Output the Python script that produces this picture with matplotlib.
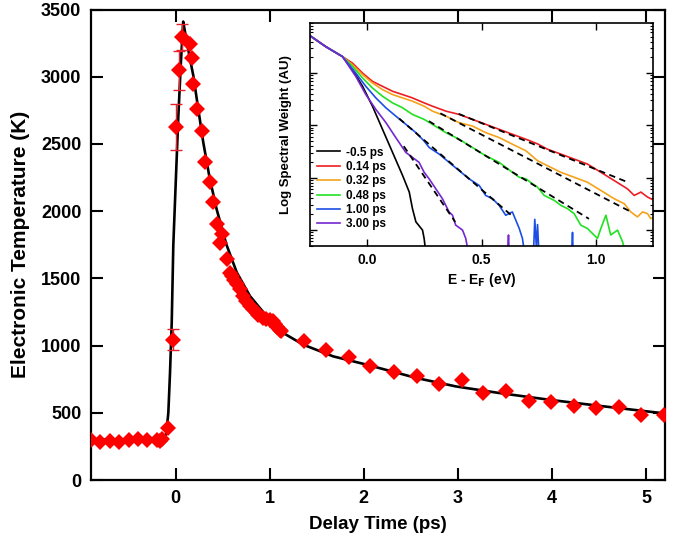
import matplotlib
matplotlib.use("Agg")
import matplotlib.pyplot as plt
import numpy as np

plt.rcParams['font.family'] = ['Liberation Sans', 'DejaVu Sans']
plt.rcParams['font.weight'] = 'bold'

# measured electronic temperature (delay in ps, T in K)
delay = [-0.90, -0.80, -0.70, -0.60, -0.50, -0.40, -0.30, -0.20, -0.17, -0.14,
         -0.08, -0.03, 0.003, 0.035, 0.064, 0.152, 0.170, 0.187, 0.223, 0.276,
         0.311, 0.364, 0.399, 0.435, 0.470, 0.488, 0.541, 0.576, 0.600, 0.620,
         0.648, 0.680, 0.718, 0.750, 0.789, 0.820, 0.860, 0.880, 0.930, 0.960,
         1.000, 1.036, 1.060, 1.080, 1.107, 1.120, 1.362, 1.595, 1.840, 2.070,
         2.320, 2.560, 2.800, 3.040, 3.270, 3.510, 3.750, 3.990, 4.230, 4.470,
         4.710, 4.950, 5.190]
temp = [295, 285, 290, 285, 295, 305, 300, 295, 290, 305,
        385, 1045, 2624, 3047, 3296, 3246, 3140, 2948, 2761, 2599,
        2363, 2214, 2065, 1903, 1766, 1828, 1642, 1543, 1520, 1490,
        1455, 1420, 1368, 1330, 1293, 1270, 1244, 1230, 1207, 1200,
        1190, 1181, 1160, 1140, 1119, 1110, 1032, 965, 916, 846,
        804, 771, 716, 746, 647, 659, 590, 584, 547, 535,
        540, 480, 485]
# points with visible error bars
err_delay = [-0.03, 0.003, 0.035, 0.064]
err_temp = [1045, 2624, 3047, 3296]
err_size = [75, 170, 145, 95]

# two-temperature model fit
fit_delay = [-0.90, -0.20, -0.14, -0.12, -0.10, -0.078, -0.06, -0.042, -0.025,
             0.0, 0.028, 0.055, 0.08, 0.10, 0.15, 0.187, 0.24, 0.293, 0.36,
             0.435, 0.54, 0.65, 0.79, 0.966, 1.14, 1.355, 1.673, 2.03, 2.558,
             2.98, 3.44, 3.97, 4.50, 5.20]
fit_temp = [300, 300, 305, 320, 345, 500, 800, 1170, 1750,
            2200, 2700, 3100, 3410, 3330, 3140, 3010, 2760, 2513, 2250,
            2015, 1750, 1543, 1368, 1219, 1095, 1007, 920, 858, 759,
            696, 647, 597, 552, 495]

# inset: photoemission spectra, energy (eV) and log10 weight
labels = ['-0.5 ps', '0.14 ps', '0.32 ps', '0.48 ps', '1.00 ps', '3.00 ps']
colors = ['black', '#ee1d23', '#f5a31a', '#22e022', '#1c4ee6', '#7426d0']
common_e = [-0.254, -0.181, -0.108]
common_l = [-0.272, -0.494, -0.684]
spec_e = {
    '-0.5 ps': [-0.064, -0.020, 0.023, 0.067, 0.111, 0.155, 0.184, 0.198, 0.213,
                0.242, 0.249, 0.254],
    '0.14 ps': [-0.064, -0.020, 0.023, 0.067, 0.111, 0.155, 0.198, 0.249, 0.285,
                0.344, 0.402, 0.460, 0.518, 0.577, 0.635, 0.694, 0.745, 0.788,
                0.847, 0.905, 0.963, 1.022, 1.080, 1.138, 1.168, 1.197, 1.226, 1.255],
    '0.32 ps': [-0.064, -0.020, 0.023, 0.067, 0.111, 0.155, 0.198, 0.249, 0.285,
                0.344, 0.402, 0.460, 0.518, 0.577, 0.635, 0.694, 0.745, 0.788,
                0.847, 0.905, 0.963, 1.022, 1.080, 1.124, 1.153, 1.182, 1.204,
                1.226, 1.240, 1.255],
    '0.48 ps': [-0.064, -0.020, 0.023, 0.067, 0.111, 0.155, 0.198, 0.249, 0.285,
                0.344, 0.402, 0.460, 0.518, 0.577, 0.635, 0.665, 0.694, 0.723,
                0.745, 0.774, 0.818, 0.847, 0.876, 0.905, 0.934, 0.963, 1.007,
                1.022, 1.044, 1.065, 1.095, 1.117, 1.124],
    '1.00 ps': [-0.050, -0.006, 0.038, 0.082, 0.125, 0.169, 0.213, 0.249, 0.271,
                0.315, 0.358, 0.402, 0.446, 0.490, 0.518, 0.548, 0.577, 0.606,
                0.635, 0.665, 0.679, 0.685],
    '3.00 ps': [-0.050, -0.006, 0.038, 0.082, 0.125, 0.169, 0.198, 0.227, 0.249,
                0.271, 0.300, 0.329, 0.358, 0.373, 0.387, 0.417, 0.431, 0.439],
}
spec_l = {
    '-0.5 ps': [-0.937, -1.253, -1.633, -2.076, -2.519, -2.962, -3.278, -3.595,
                -3.848, -4.006, -4.165, -4.35],
    '0.14 ps': [-0.810, -1.000, -1.158, -1.253, -1.348, -1.411, -1.475, -1.570,
                -1.633, -1.728, -1.791, -1.886, -1.980, -2.076, -2.171, -2.266,
                -2.355, -2.456, -2.551, -2.646, -2.741, -2.899, -3.057, -3.215,
                -3.342, -3.278, -3.373, -3.437],
    '0.32 ps': [-0.842, -1.032, -1.190, -1.316, -1.411, -1.475, -1.538, -1.633,
                -1.728, -1.823, -1.949, -2.013, -2.139, -2.234, -2.361, -2.487,
                -2.677, -2.772, -2.899, -2.994, -3.089, -3.247, -3.405, -3.500,
                -3.658, -3.753, -3.658, -3.690, -3.785, -3.760],
    '0.48 ps': [-0.873, -1.095, -1.285, -1.443, -1.570, -1.665, -1.791, -1.886,
                -1.980, -2.139, -2.266, -2.424, -2.582, -2.709, -2.899, -2.994,
                -3.025, -3.120, -3.184, -3.342, -3.437, -3.532, -3.595, -3.690,
                -3.910, -3.975, -4.165, -3.975, -3.720, -4.100, -4.006, -4.230,
                -4.350],
    '1.00 ps': [-1.000, -1.253, -1.475, -1.665, -1.823, -1.980, -2.140, -2.300,
                -2.424, -2.551, -2.709, -2.867, -3.025, -3.152, -3.342, -3.405,
                -3.532, -3.722, -3.658, -3.975, -4.165, -4.350],
    '3.00 ps': [-1.063, -1.410, -1.696, -1.949, -2.234, -2.519, -2.614, -2.709,
                -2.899, -3.025, -3.215, -3.405, -3.658, -3.720, -3.910, -4.006,
                -4.165, -4.350],
}
# short fragments that poke into the window near the bottom
frag_e = {'1.00 ps': [[0.728, 0.733, 0.740, 0.745, 0.750], [0.895, 0.898, 0.900]],
          '3.00 ps': [[0.615, 0.618, 0.620]]}
frag_l = {'1.00 ps': [[-4.35, -3.80, -4.35, -3.90, -4.35], [-4.35, -4.05, -4.35]],
          '3.00 ps': [[-4.35, -4.10, -4.35]]}
# exponential (straight in log) fits to the hot tails
tail_e = [[0.40, 1.14], [0.32, 1.155], [0.27, 0.97], [0.14, 0.63], [0.16, 0.385]]
tail_l = [[-1.78, -3.09], [-1.77, -3.66], [-1.92, -3.79], [-1.87, -3.72], [-2.40, -3.85]]

fig = plt.figure(figsize=(6.75, 5.43), dpi=100)
ax = fig.add_axes([0.1348, 0.116, 0.8503, 0.8665])

ax.plot(fit_delay, fit_temp, color='black', lw=1.9, zorder=2)
ax.errorbar(err_delay, err_temp, yerr=err_size, fmt='none', ecolor='#e8202a',
            elinewidth=1.0, capsize=4, capthick=1.0, zorder=3)
ax.plot(delay, temp, 'D', color='#ff0000', markersize=8, markeredgewidth=0, zorder=4)

ax.set_xlim(-0.9, 5.2)
ax.set_ylim(0, 3500)
ax.set_xticks([0, 1, 2, 3, 4, 5])
ax.set_yticks(np.arange(0, 3501, 500))
ax.tick_params(direction='in', length=8.5, width=1.5, top=True, right=True,
               labelsize=13, pad=7)
for lbl in ax.get_xticklabels() + ax.get_yticklabels():
    lbl.set_fontweight('bold')
for s in ax.spines.values():
    s.set_linewidth(1.6)
ax.set_xlabel('Delay Time (ps)', fontsize=13.5, fontweight='bold', labelpad=7)
ax.set_ylabel('Electronic Temperature (K)', fontsize=15, fontweight='bold', labelpad=8)

ins = fig.add_axes([0.4593, 0.547, 0.5081, 0.4107])
ins.set_facecolor('white')
for lab, c in zip(labels, colors):
    e = common_e + spec_e[lab]
    l = common_l + spec_l[lab]
    ins.plot(e, 10.0 ** np.array(l), color=c, lw=1.2, label=lab)
    for fe, fl in zip(frag_e.get(lab, []), frag_l.get(lab, [])):
        ins.plot(fe, 10.0 ** np.array(fl), color=c, lw=1.2)
for te, tl in zip(tail_e, tail_l):
    ins.plot(te, 10.0 ** np.array(tl), color='black', lw=1.3, ls=(0, (3.5, 2.5)))

ins.set_yscale('log')
ins.set_xlim(-0.25, 1.25)
ins.set_ylim(10 ** -4.31, 10 ** -0.04)
ins.set_xticks([0.0, 0.5, 1.0])
ins.set_xticklabels(['0.0', '0.5', '1.0'])
ins.yaxis.set_major_locator(matplotlib.ticker.LogLocator(base=10, numticks=10))
ins.yaxis.set_minor_locator(matplotlib.ticker.LogLocator(base=10, subs=np.arange(2, 10), numticks=10))
ins.yaxis.set_major_formatter(matplotlib.ticker.NullFormatter())
ins.yaxis.set_minor_formatter(matplotlib.ticker.NullFormatter())
ins.tick_params(which='major', direction='in', length=5, width=1.0, top=True, right=True,
                labelsize=10, pad=5)
ins.tick_params(which='minor', direction='in', length=2.5, width=0.8, right=True)
for lbl in ins.get_xticklabels():
    lbl.set_fontweight('bold')
for s in ins.spines.values():
    s.set_linewidth(1.2)
ins.set_xlabel('E - E$_\\mathbf{F}$ (eV)', fontsize=10, fontweight='bold', labelpad=3)
ins.set_ylabel('Log Spectral Weight (AU)', fontsize=9.5, fontweight='bold', labelpad=8)
ins.legend(loc='lower left', bbox_to_anchor=(0.02, 0.07), frameon=False,
           prop={'size': 8.5, 'weight': 'bold'}, handlelength=2.0, handletextpad=0.5,
           labelspacing=0.2, borderpad=0, borderaxespad=0)

fig.savefig('out.png', dpi=100)
